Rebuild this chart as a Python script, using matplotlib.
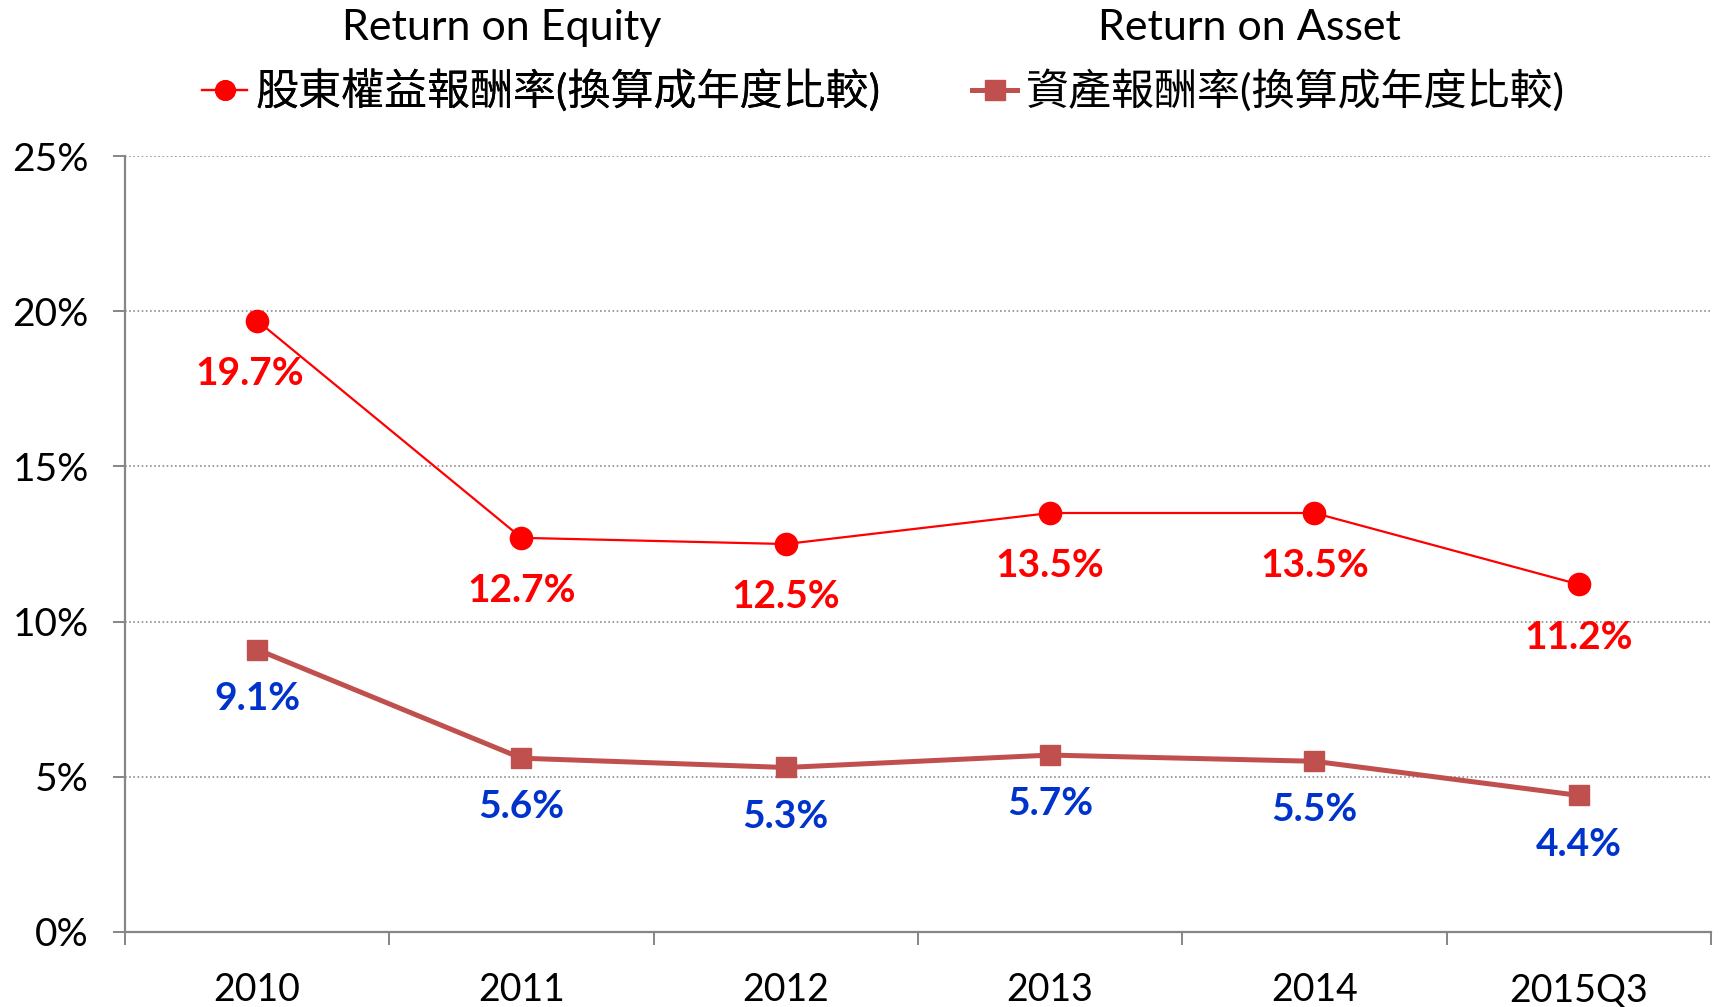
import matplotlib
matplotlib.use("Agg")
import matplotlib.pyplot as plt
from matplotlib.lines import Line2D

plt.rcParams['font.family'] = ['Lato', 'Noto Sans CJK TC', 'DejaVu Sans']

years = ["2010", "2011", "2012", "2013", "2014", "2015Q3"]
roe = [19.7, 12.7, 12.5, 13.5, 13.5, 11.2]
roa = [9.1, 5.6, 5.3, 5.7, 5.5, 4.4]
roe_name = "股東權益報酬率(換算成年度比較)"
roa_name = "資產報酬率(換算成年度比較)"

fig = plt.figure(figsize=(17.19, 10.07), dpi=100)
ax = fig.add_axes([0.0727, 0.0745, 0.9226, 0.7705])

x = list(range(len(years)))
ax.plot(x, roe, color="#FF0000", lw=1.6, marker="o", ms=16, zorder=3)
ax.plot(x, roa, color="#C0504D", lw=3.6, marker="s", ms=14, zorder=3)

for xi, v in zip(x, roe):
    ax.annotate(f"{v:.1f}%", (xi, v), xytext=(-5 if xi == 0 else 0, -38),
                textcoords="offset points", ha="center", va="center",
                color="#FF0000", fontsize=28, fontweight="bold")
for xi, v in zip(x, roa):
    ax.annotate(f"{v:.1f}%", (xi, v), xytext=(0, -35),
                textcoords="offset points", ha="center", va="center",
                color="#0033CC", fontsize=28, fontweight="bold")

ax.set_xlim(-0.5, len(years) - 0.5)
ax.set_ylim(0, 25)
ax.set_yticks([0, 5, 10, 15, 20, 25])
ax.set_yticklabels([f"{t}%" for t in [0, 5, 10, 15, 20, 25]])
ax.set_xticks(x)
ax.set_xticklabels(years)
ax.set_xticks([i - 0.5 for i in range(len(years) + 1)], minor=True)
ax.tick_params(axis="x", which="major", length=0, pad=29, labelsize=27)
ax.tick_params(axis="x", which="minor", length=9, width=1.4, color="#868686")
ax.tick_params(axis="y", length=9, width=1.4, color="#868686", pad=17, labelsize=28)

ax.grid(axis="y", color="#8c8c8c", linestyle=(0, (1, 1.5)), lw=1.2)
ax.set_axisbelow(True)
for s in ["top", "right"]:
    ax.spines[s].set_visible(False)
for s in ["left", "bottom"]:
    ax.spines[s].set_color("#868686")
    ax.spines[s].set_linewidth(1.6)

fig.text(0.292, 0.972, "Return on Equity", ha="center", va="center", fontsize=31)
fig.text(0.727, 0.972, "Return on Asset", ha="center", va="center", fontsize=31)

h1 = Line2D([], [], color="#FF0000", lw=1.6, marker="o", ms=14)
h2 = Line2D([], [], color="#C0504D", lw=3.6, marker="s", ms=14)
leg1 = fig.legend(handles=[h1], labels=[roe_name], loc="center left",
                  bbox_to_anchor=(0.095, 0.91), frameon=False, fontsize=31,
                  handlelength=1.05, handletextpad=0.2)
fig.add_artist(leg1)
fig.legend(handles=[h2], labels=[roa_name], loc="center left",
           bbox_to_anchor=(0.543, 0.91), frameon=False, fontsize=31,
           handlelength=1.05, handletextpad=0.2)

fig.savefig("out.png", dpi=100)
